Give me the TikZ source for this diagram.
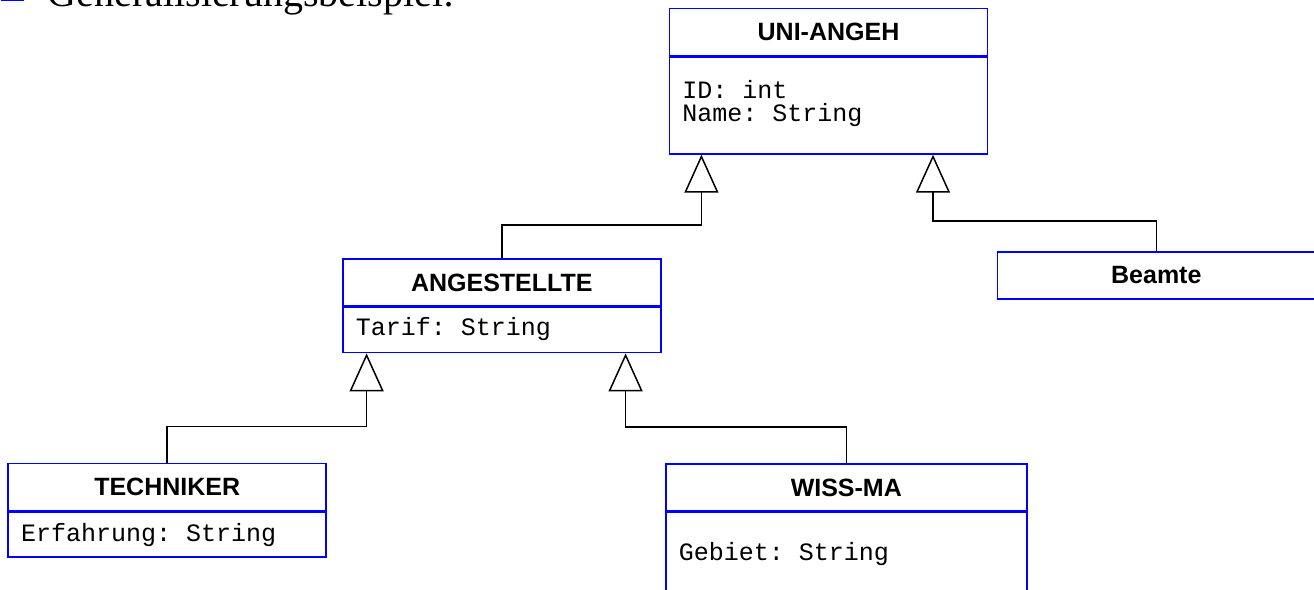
\documentclass[tikz,border=0pt]{standalone}
\usepackage{fontspec}
\setmainfont{Liberation Serif}
\setsansfont{Liberation Sans}
\setmonofont{Liberation Mono}
\usetikzlibrary{arrows.meta}

\begin{document}
\begin{tikzpicture}[x=1pt, y=-1pt, line width=1.5pt]
\tikzstyle{head} = [draw=blue, line width=1.6pt, minimum width=318pt, minimum height=47pt, inner sep=0pt, font=\sffamily\bfseries\fontsize{25}{30}\selectfont]
\tikzstyle{body} = [draw=blue, line width=1.6pt, minimum width=318pt, anchor=north, inner sep=0pt]
\tikzstyle{attr} = [anchor=base west, inner sep=0pt, font=\ttfamily\fontsize{25}{30}\selectfont]
\tikzstyle{gen} = [-{Triangle[open, length=38pt, width=34pt]}, black]
\useasboundingbox (0,0) rectangle (1314,589);
\clip (0,0) rectangle (1314,589);
\node[fill=blue, minimum size=23pt, inner sep=0pt, anchor=south west] (bullet) at (0,2) {};
\node[anchor=base west, inner sep=0pt, font=\fontsize{40}{48}\selectfont] (title) at (47,6) {Generalisierungsbeispiel:};
\node[head] (unih) at (828.5,31.8) {UNI-ANGEH};
\node[body, minimum height=97pt] (unib) at (unih.south) {};
\node[head] (angh) at (501.8,282.5) {ANGESTELLTE};
\node[body, minimum height=45pt] (angb) at (angh.south) {};
\node[head] (beah) at (1156.3,275.2) {Beamte};
\node[head] (techh) at (167.2,486.8) {TECHNIKER};
\node[body, minimum height=45pt] (techb) at (techh.south) {};
\node[head, minimum width=361pt] (wissh) at (846.3,487.5) {WISS-MA};
\node[body, minimum width=361pt, minimum height=97pt] (wissb) at (wissh.south) {};
\node[attr] (uniid) at ([shift={(13,42)}]unib.north west) {ID: int};
\node[attr] (uniname) at ([shift={(13,65)}]unib.north west) {Name: String};
\node[attr] (angtarif) at ([shift={(13,29)}]angb.north west) {Tarif: String};
\node[attr] (techerf) at ([shift={(13,30)}]techb.north west) {Erfahrung: String};
\node[attr] (wissgeb) at ([shift={(13,48.5)}]wissb.north west) {Gebiet: String};
\draw[gen] (angh.north) -- ++(0,-33) -| ([xshift=32.7pt]unib.south west);
\draw[gen] (beah.north) -- ++(0,-29.7) -| ([xshift=-55.3pt]unib.south east);
\draw[gen] (techh.north) -- ++(0,-36) -| ([xshift=24.6pt]angb.south west);
\draw[gen] (wissh.north) -- ++(0,-36) -| ([xshift=-36pt]angb.south east);
\end{tikzpicture}
\end{document}
